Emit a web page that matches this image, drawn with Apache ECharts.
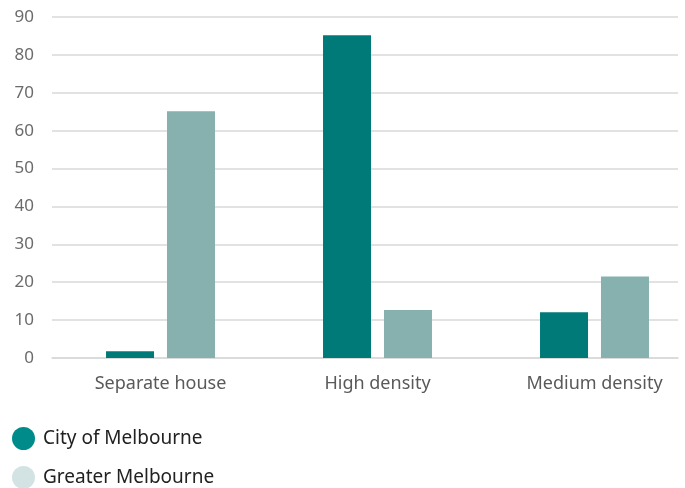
<!DOCTYPE html>
<html>
<head>
<meta charset="utf-8">
<script src="https://cdn.jsdelivr.net/npm/echarts@6/dist/echarts.min.js"></script>
<style>
  html, body { margin: 0; padding: 0; background: #fff; }
  #chart { width: 685px; height: 488px; }
</style>
</head>
<body>
<div id="chart"></div>
<script>
    // 数据
    let categories = ['Separate house', 'High density', 'Medium density'];
    let cityValues = [1.8, 85.2, 12.1];
    let greaterValues = [65.1, 12.7, 21.5];
    let yTicks = [0, 90, 10];

    let chart = echarts.init(document.getElementById('chart'));
    let font = 'Noto Sans';

    // 图例样式
    let legendBase = {
        left: 12,
        padding: 0,
        icon: 'circle',
        itemWidth: 23,
        itemHeight: 23,
        itemGap: 6,
        textStyle: { fontFamily: font, fontSize: 19, color: '#222', padding: [0, 0, 0, 3] }
    };

    var option = {
        animation: false,
        // grid 0: gridlines and y labels, grid 1: bars
        grid: [
            { left: 52, right: 7, top: 17, bottom: 130 },
            { left: 52, width: 651, top: 17, bottom: 130, outerBoundsMode: 'none' }
        ],
        legend: [
            Object.assign({}, legendBase, {
                top: 427,
                data: [{ name: 'City of Melbourne', itemStyle: { color: '#008b8b' } }]
            }),
            Object.assign({}, legendBase, {
                top: 466,
                data: [{ name: 'Greater Melbourne', itemStyle: { color: '#d3e3e3' } }]
            })
        ],
        xAxis: [
            {
                gridIndex: 0, type: 'category', data: categories,
                axisLine: { lineStyle: { color: '#d9d9d9', width: 1.5 } },
                axisTick: { show: false }, axisLabel: { show: false }
            },
            {
                gridIndex: 1, type: 'category', data: categories,
                axisLine: { show: false }, axisTick: { show: false },
                axisLabel: { fontFamily: font, fontSize: 18, color: '#595959', margin: 17 }
            }
        ],
        yAxis: [
            {
                gridIndex: 0, type: 'value', min: yTicks[0], max: yTicks[1], interval: yTicks[2],
                axisLabel: { fontFamily: font, fontSize: 17, color: '#6b6b6b', margin: 18 },
                splitLine: { lineStyle: { color: '#d9d9d9', width: 1.5 } }
            },
            {
                gridIndex: 1, type: 'value', min: yTicks[0], max: yTicks[1], interval: yTicks[2],
                axisLabel: { show: false }, splitLine: { show: false }
            }
        ],
        series: [
            {
                name: 'City of Melbourne', type: 'bar', xAxisIndex: 1, yAxisIndex: 1,
                data: cityValues, barWidth: 48, barGap: '27%',
                itemStyle: { color: '#007a78' }
            },
            {
                name: 'Greater Melbourne', type: 'bar', xAxisIndex: 1, yAxisIndex: 1,
                data: greaterValues, barWidth: 48,
                itemStyle: { color: '#86b1af' }
            }
        ]
    };

    chart.setOption(option);
</script>
</body>
</html>
